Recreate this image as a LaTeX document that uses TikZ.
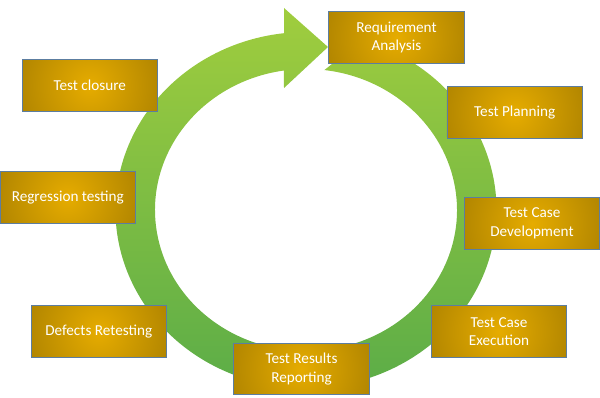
\documentclass[tikz,border=0pt]{standalone}
\usepackage{fontspec}
\setmainfont{Carlito}
\usetikzlibrary{calc}
\definecolor{ringtop}{RGB}{160,205,62}
\definecolor{ringbottom}{RGB}{90,172,72}
\definecolor{goldin}{RGB}{230,172,0}
\definecolor{goldout}{RGB}{178,134,0}
\definecolor{boxline}{RGB}{92,125,160}

\begin{document}
\begin{tikzpicture}[
    x=1pt, y=1pt,
    stage/.style={draw=boxline, line width=0.8pt, rectangle, align=center, text=white,
        minimum width=135.5pt, minimum height=51.5pt, inner sep=0pt,
        font=\fontsize{15.2}{18.5}\selectfont,
        path picture={\shade[inner color=goldin, outer color=goldout]
            (path picture bounding box.center) circle (72pt);}}
]
\useasboundingbox (0,0) rectangle (600,397);
\coordinate (c) at (306,187);

\shade[top color=ringtop, bottom color=ringbottom]
    ($(c)+(83:190.5pt and 178pt)$) arc[start angle=83, end angle=-263.4, x radius=190.5pt, y radius=178pt]
    -- (284,389) -- (328,350) -- (284,309)
    -- ($(c)+(98.4:151pt and 141pt)$) arc[start angle=-261.6, end angle=83, x radius=151pt, y radius=141pt]
    -- ($(c)+(77:171pt and 160pt)$) -- cycle;

\node[stage] (req) at (396.5,359.5) {Requirement\\Analysis};
\node[stage] (plan) at (514.7,284.5) {Test Planning};
\node[stage] (dev) at (532,173.5) {Test Case\\Development};
\node[stage] (exec) at (499,65.5) {Test Case\\Execution};
\node[stage] (report) at (301.5,28) {Test Results\\Reporting};
\node[stage] (defects) at (98.8,65.7) {Defects Retesting};
\node[stage] (regress) at (67.8,199.5) {Regression testing};
\node[stage] (closure) at (89.8,311.5) {Test closure};

\end{tikzpicture}
\end{document}
